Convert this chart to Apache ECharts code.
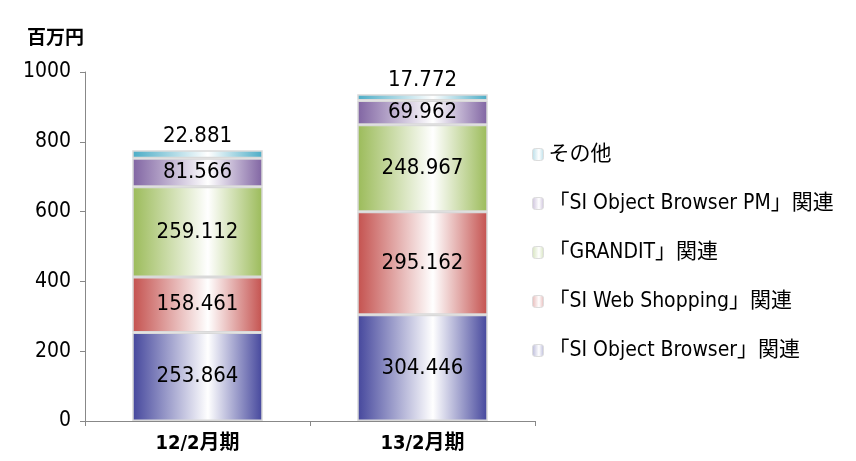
<!DOCTYPE html>
<html>
<head>
<meta charset="utf-8">
<script src="https://cdn.jsdelivr.net/npm/echarts@6/dist/echarts.min.js"></script>
<style>
  html, body { margin: 0; padding: 0; background: #fff; }
  #chart { width: 856px; height: 461px; }
</style>
</head>
<body>
<div id="chart"></div>
<script>
const categories = ['12/2月期', '13/2月期']
const seriesNames = [
  '「SI Object Browser」関連',
  '「SI Web Shopping」関連',
  '「GRANDIT」関連',
  '「SI Object Browser PM」関連',
  'その他'
]
const objectBrowser = [253.864, 304.446]
const webShopping = [158.461, 295.162]
const grandit = [259.112, 248.967]
const objectBrowserPM = [81.566, 69.962]
const others = [22.881, 17.772]
const yTicks = [0, 200, 400, 600, 800, 1000]

const FONT = '"DejaVu Sans Condensed", "Noto Sans CJK JP", sans-serif'
const edgeColors = ['#44469c', '#c4514e', '#9bbb59', '#8064a2', '#4bacc6']
const paleColors = ['#b8b8d8', '#e6b8b7', '#d4e2bc', '#cbc0da', '#b7dde8']
const values = [objectBrowser, webShopping, grandit, objectBrowserPM, others]

// 横方向のグラデーション（端が濃く、中央が白）
function grad (c) {
  return new echarts.graphic.LinearGradient(0, 0, 1, 0, [
    { offset: 0, color: c },
    { offset: 0.58, color: '#ffffff' },
    { offset: 1, color: c }
  ])
}

const chart = echarts.init(document.getElementById('chart'))
const series = seriesNames.map((name, i) => ({
  name: name,
  type: 'bar',
  stack: 'total',
  barWidth: '58%',
  data: values[i],
  itemStyle: {
    color: grad(edgeColors[i]),
    borderColor: '#d9d9d9',
    borderWidth: 1.5
  },
  label: {
    show: true,
    position: i === 4 ? 'top' : 'inside',
    distance: 3,
    color: '#000',
    fontSize: 22,
    fontFamily: FONT,
    formatter: p => p.value.toFixed(3)
  }
}))

chart.setOption({
  animation: false,
  title: {
    text: '百万円',
    left: 22,
    top: 25,
    textStyle: { fontSize: 19, fontWeight: 'bold', color: '#000', fontFamily: FONT }
  },
  legend: {
    orient: 'vertical',
    left: 527,
    top: 139,
    itemWidth: 11,
    itemHeight: 12,
    itemGap: 28,
    data: seriesNames.slice().reverse().map((n, k) => ({
      name: n,
      itemStyle: { color: grad(paleColors[4 - k]), borderColor: '#ddd', borderWidth: 1 }
    })),
    textStyle: { fontSize: 21, color: '#000', fontFamily: FONT }
  },
  grid: { left: 85, right: 321, top: 72, bottom: 40 },
  xAxis: {
    type: 'category',
    data: categories,
    axisLine: { lineStyle: { color: '#888' } },
    axisTick: { show: true, length: 5, lineStyle: { color: '#888' } },
    axisLabel: { fontSize: 20, fontWeight: 'bold', color: '#000', margin: 13, fontFamily: FONT }
  },
  yAxis: {
    type: 'value',
    min: yTicks[0],
    max: yTicks[yTicks.length - 1],
    interval: 200,
    axisLine: { show: true, lineStyle: { color: '#888' } },
    axisTick: { show: true, length: 5, lineStyle: { color: '#888' } },
    splitLine: { show: false },
    axisLabel: { fontSize: 21, color: '#000', margin: 14, fontFamily: FONT, formatter: v => String(v) }
  },
  series: series
})
</script>
</body>
</html>
